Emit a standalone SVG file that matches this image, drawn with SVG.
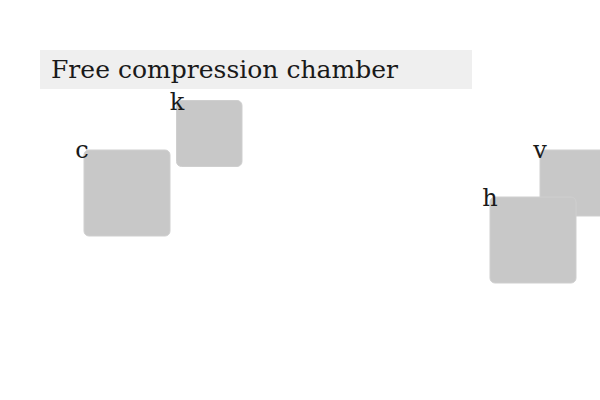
<svg xmlns="http://www.w3.org/2000/svg" width="600" height="400" viewBox="0 0 600 400">
  <style>
    .box { fill: #c8c8c8; stroke: #cfcfcf; stroke-width: 1; }
    .lbl { font-family: "DejaVu Serif", "Liberation Serif", serif; font-size: 24px; fill: #1a1a1a; }
    .title { font-family: "DejaVu Serif", "Liberation Serif", serif; font-size: 25px; fill: #1a1a1a; }
  </style>
  <rect width="600" height="400" fill="#ffffff"/>
  <g id="title">
    <rect x="40" y="50" width="432" height="39" fill="#efefef"/>
    <text class="title" x="51" y="78" textLength="347" lengthAdjust="spacingAndGlyphs">Free compression chamber</text>
  </g>
  <g id="connectors"></g>
  <g id="node-k">
    <rect class="box" x="176.5" y="100.5" width="65.5" height="66" rx="5"/>
    <text class="lbl" x="177" y="110" text-anchor="middle">k</text>
  </g>
  <g id="node-c">
    <rect class="box" x="84" y="150" width="86" height="86" rx="5"/>
    <text class="lbl" x="82" y="158" text-anchor="middle">c</text>
  </g>
  <g id="node-v">
    <rect class="box" x="540" y="150" width="66" height="66" rx="5"/>
    <text class="lbl" x="540" y="158" text-anchor="middle">v</text>
  </g>
  <g id="node-h">
    <rect class="box" x="490" y="197" width="86" height="86" rx="5"/>
    <text class="lbl" x="490" y="206" text-anchor="middle">h</text>
  </g>
</svg>
